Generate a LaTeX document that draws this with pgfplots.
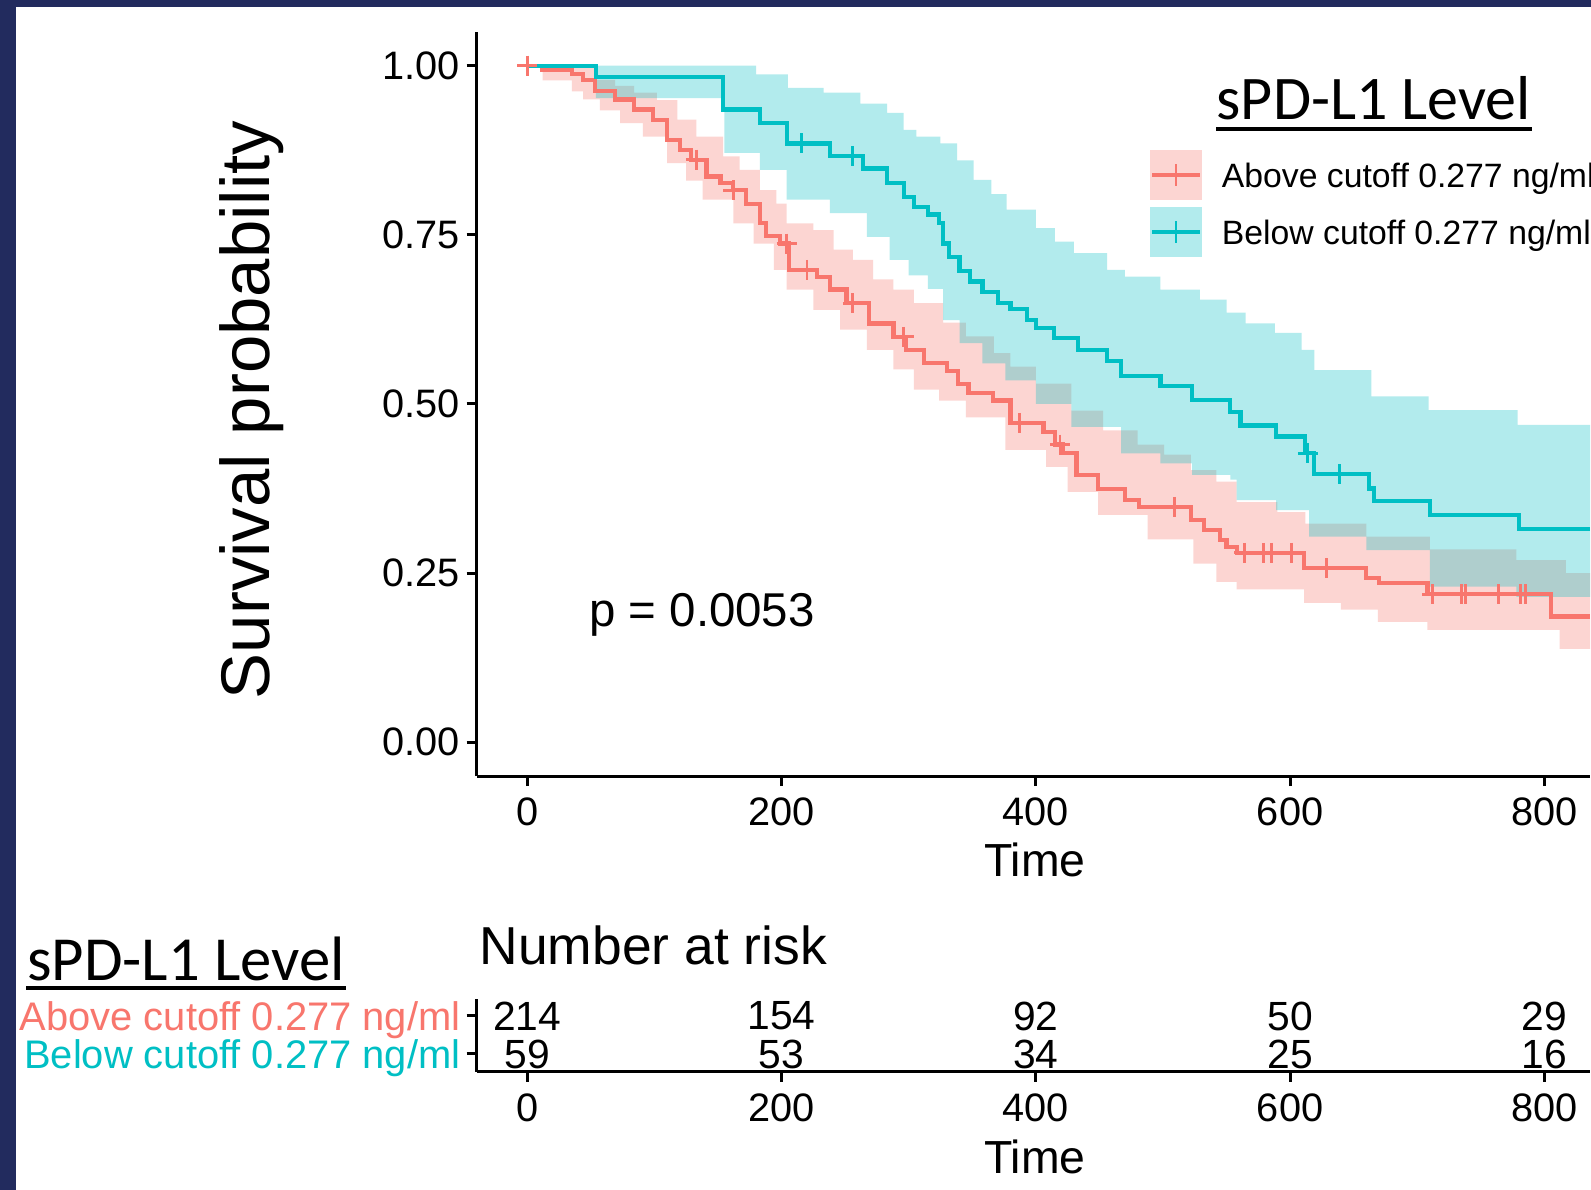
\documentclass[border=0pt]{standalone}
\usepackage{pgfplots}
\pgfplotsset{compat=1.18}
\usepackage{fontspec}
\setmainfont{Liberation Sans}
\newfontfamily\carlito{Carlito}
\definecolor{salmon}{HTML}{F8766D}
\definecolor{tealc}{HTML}{00BFC4}
\definecolor{navy}{HTML}{222B5E}

\pgfplotsset{
  km/.style={
    scale only axis, width=111.34mm,
    xmin=-39.8, xmax=836,
    axis lines=left, axis line style={-, line width=0.85pt, black},
    tick align=outside, major tick length=1mm,
    tick style={line width=0.85pt, black},
    xtick={0,200,400,600,800},
    /pgf/number format/assume math mode=true,
    tick label style={font=\fontsize{11.3}{13}\selectfont, inner sep=0pt},
    xticklabel style={anchor=north, yshift=-1.1mm},
    label style={font=\fontsize{13.2}{15}\selectfont, inner sep=0pt},
  },
}

\begin{document}
\begin{tikzpicture}
\fill[navy] (0,0) rectangle (159.1mm,119mm);
\fill[white] (1.63mm,0) rectangle (159.1mm,118.33mm);
\begin{scope}
\clip (0,0) rectangle (159.1mm,119mm);

% survival curves
\begin{axis}[km,
  at={(47.67mm,41.39mm)}, anchor=south west, height=74.43mm,
  ymin=-0.05, ymax=1.05, ytick={0,0.25,0.5,0.75,1},
  y tick label style={/pgf/number format/.cd, fixed, fixed zerofill, precision=2, /tikz/.cd, anchor=east, xshift=-0.67mm},
  xlabel={Time},
  xlabel style={at={(axis description cs:0.5014,-0.13556)}, anchor=base},
  ylabel={Survival probability},
  ylabel style={at={(axis description cs:-0.18565,0.49187)}, anchor=base, font=\fontsize{19.6}{22}\selectfont},
  legend cell align=left,
  legend style={at={(axis description cs:0.60473,0.84119)}, anchor=north west,
    draw=none, fill=none, inner sep=0pt, outer sep=0pt, row sep=0.67mm,
    font=\fontsize{9.6}{11}\selectfont, nodes={inner sep=0pt},
    /tikz/every odd column/.append style={column sep=2mm}},
]
% 95% band, above cutoff (upper steps, then lower steps back)
\addplot[fill=salmon, fill opacity=0.3, draw=none, forget plot] coordinates {
(0,1.000) (53,1.000) (53,0.979) (69,0.979) (69,0.970) (84,0.970) (84,0.960) (102,0.960)
(102,0.949) (118,0.949) (118,0.920) (133,0.920) (133,0.895) (154,0.895) (154,0.866)
(167,0.866) (167,0.846) (183,0.846) (183,0.816) (196,0.816) (196,0.796) (204,0.796)
(204,0.767) (225,0.767) (225,0.757) (241,0.757) (241,0.728) (256,0.728) (256,0.713)
(272,0.713) (272,0.684) (288,0.684) (288,0.669) (304,0.669) (304,0.649) (327,0.649)
(327,0.620) (345,0.620) (345,0.600) (367,0.600) (367,0.575) (380,0.575) (380,0.555)
(400,0.555) (400,0.530) (428,0.530) (428,0.490) (453,0.490) (453,0.461) (480,0.461)
(480,0.440) (501,0.440) (501,0.425) (522,0.425) (522,0.402) (542,0.402) (542,0.385)
(558,0.385) (558,0.355) (590,0.355) (590,0.340) (612,0.340) (612,0.323) (660,0.323)
(660,0.304) (710,0.304) (710,0.285) (778,0.285) (778,0.269) (817,0.269) (817,0.250)
(836,0.250)
(836,0.138) (812,0.138) (812,0.166) (708,0.166) (708,0.178) (669,0.178) (669,0.196)
(640,0.196) (640,0.206) (611,0.206) (611,0.226) (558,0.226) (558,0.237) (542,0.237)
(542,0.264) (524,0.264) (524,0.300) (488,0.300) (488,0.336) (449,0.336) (449,0.370)
(425,0.370) (425,0.407) (408,0.407) (408,0.432) (376,0.432) (376,0.480) (345,0.480)
(345,0.505) (324,0.505) (324,0.521) (304,0.521) (304,0.551) (288,0.551) (288,0.580)
(267,0.580) (267,0.610) (246,0.610) (246,0.639) (225,0.639) (225,0.669) (204,0.669)
(204,0.698) (194,0.698) (194,0.737) (178,0.737) (178,0.767) (162,0.767) (162,0.802)
(138,0.802) (138,0.830) (125,0.830) (125,0.856) (110,0.856) (110,0.895) (91,0.895)
(91,0.915) (73,0.915) (73,0.934) (57,0.934) (57,0.950) (44,0.950) (44,0.962) (35,0.962)
(35,0.978) (12,0.978) (12,1.000) (0,1.000)};
% 95% band, below cutoff
\addplot[fill=tealc, fill opacity=0.3, draw=none, forget plot] coordinates {
(0,1.000) (180,1.000) (180,0.987) (205,0.987) (205,0.967) (233,0.967) (233,0.960)
(262,0.960) (262,0.944) (283,0.944) (283,0.930) (296,0.930) (296,0.905) (306,0.905)
(306,0.895) (325,0.895) (325,0.885) (338,0.885) (338,0.860) (351,0.860) (351,0.831)
(365,0.831) (365,0.810) (377,0.810) (377,0.787) (400,0.787) (400,0.760) (415,0.760)
(415,0.740) (430,0.740) (430,0.723) (456,0.723) (456,0.698) (470,0.698) (470,0.688)
(498,0.688) (498,0.669) (529,0.669) (529,0.654) (550,0.654) (550,0.635) (565,0.635)
(565,0.619) (588,0.619) (588,0.605) (609,0.605) (609,0.580) (619,0.580) (619,0.550)
(664,0.550) (664,0.511) (709,0.511) (709,0.491) (779,0.491) (779,0.469) (836,0.469)
(836,0.215) (778,0.215) (778,0.230) (710,0.230) (710,0.284) (660,0.284) (660,0.304)
(615,0.304) (615,0.343) (589,0.343) (589,0.358) (558,0.358) (558,0.388) (553,0.388)
(553,0.395) (523,0.395) (523,0.412) (498,0.412) (498,0.427) (467,0.427) (467,0.466)
(428,0.466) (428,0.500) (400,0.500) (400,0.535) (376,0.535) (376,0.560) (358,0.560)
(358,0.590) (340,0.590) (340,0.624) (327,0.624) (327,0.670) (315,0.670) (315,0.690)
(300,0.690) (300,0.713) (285,0.713) (285,0.747) (267,0.747) (267,0.782) (238,0.782)
(238,0.802) (204,0.802) (204,0.846) (183,0.846) (183,0.871) (155,0.871) (155,0.952)
(54,0.952) (54,1.000) (0,1.000)};
% KM curves
\addplot[salmon, line width=1.2pt, const plot, forget plot] coordinates {
(0,1.000) (12,0.993) (35,0.988) (44,0.979) (53,0.962) (69,0.950) (84,0.935)
(99,0.920) (110,0.890) (120,0.875) (129,0.861) (141,0.836) (152,0.826) (162,0.816)
(172,0.796) (183,0.767) (188,0.748) (199,0.737) (206,0.698) (228,0.688) (238,0.669)
(251,0.649) (269,0.619) (288,0.599) (298,0.580) (312,0.560) (330,0.549) (339,0.530)
(347,0.516) (366,0.505) (380,0.472) (406,0.459) (415,0.440) (421,0.427) (432,0.395)
(449,0.374) (470,0.358) (481,0.348) (522,0.329) (532,0.314) (545,0.299) (550,0.289)
(558,0.280) (611,0.257) (660,0.243) (670,0.235) (708,0.219) (805,0.186) (836,0.186)};
\addplot[tealc, line width=1.2pt, const plot, forget plot] coordinates {
(0,1.000) (54,0.983) (154,0.935) (183,0.915) (204,0.885) (238,0.866) (264,0.848)
(283,0.826) (296,0.806) (304,0.791) (315,0.780) (324,0.767) (327,0.737) (332,0.717)
(340,0.697) (348,0.681) (358,0.666) (370,0.649) (380,0.640) (393,0.624) (400,0.612)
(414,0.598) (433,0.580) (456,0.563) (467,0.541) (498,0.526) (523,0.506) (553,0.488)
(561,0.468) (589,0.452) (612,0.427) (619,0.396) (662,0.375) (666,0.356) (710,0.336)
(780,0.315) (836,0.315)};
% censoring marks
\addplot[only marks, mark=+, mark size=1mm, salmon, mark options={line width=0.85pt}, forget plot] coordinates {
(0,1.000) (133,0.861) (162,0.816) (204,0.737) (220,0.698) (256,0.649) (296,0.599)
(387,0.472) (419,0.440) (509,0.348) (564,0.280) (579,0.280) (585,0.280) (601,0.280)
(629,0.257) (712,0.219) (735,0.219) (738,0.219) (764,0.219) (781,0.219) (785,0.219)};
\addplot[only marks, mark=+, mark size=1mm, tealc, mark options={line width=0.85pt}, forget plot] coordinates {
(216,0.885) (256,0.866) (614,0.427) (639,0.396)};
% legend
\addlegendimage{legend image code/.code={
  \fill[salmon, fill opacity=0.3, draw=none] (0mm,-2.18mm) rectangle (5.17mm,2.82mm);
  \draw[salmon, line width=1.2pt] (0.2mm,0.32mm) -- (4.97mm,0.32mm);
  \draw[salmon, line width=0.85pt] (2.585mm,-0.78mm) -- (2.585mm,1.42mm);}}
\addlegendentry{Above cutoff 0.277 ng/ml}
\addlegendimage{legend image code/.code={
  \fill[tealc, fill opacity=0.3, draw=none] (0mm,-2.18mm) rectangle (5.17mm,2.82mm);
  \draw[tealc, line width=1.2pt] (0.2mm,0.32mm) -- (4.97mm,0.32mm);
  \draw[tealc, line width=0.85pt] (2.585mm,-0.78mm) -- (2.585mm,1.42mm);}}
\addlegendentry{Below cutoff 0.277 ng/ml}
\end{axis}

% number at risk table
\begin{axis}[km,
  at={(47.67mm,11.8mm)}, anchor=south west, height=7.25mm,
  ymin=0.526, ymax=2.434, ytick={1,2},
  yticklabels={\textcolor{tealc}{Below cutoff 0.277 ng/ml},\textcolor{salmon}{Above cutoff 0.277 ng/ml}},
  y tick label style={anchor=base east, xshift=-0.56mm, yshift=-1.42mm, font=\fontsize{11.35}{13}\selectfont},
  xlabel={Time},
  xlabel style={at={(axis description cs:0.5014,-1.4069)}, anchor=base},
  clip=false,
]
\addplot[draw=none, mark=none, nodes near coords, point meta=explicit symbolic,
  every node near coord/.append style={anchor=center, inner sep=0pt, font=\fontsize{11.6}{13}\selectfont}]
  coordinates {(0,2)[214] (200,2)[154] (400,2)[92] (600,2)[50] (800,2)[29]
               (0,1)[59] (200,1)[53] (400,1)[34] (600,1)[25] (800,1)[16]};
\end{axis}

\node[anchor=base west, inner sep=0pt, font=\fontsize{13.5}{16}\selectfont] at (58.85mm,56.3mm) {p = 0.0053};
\node[anchor=base west, inner sep=0pt, font=\fontsize{15.2}{18}\selectfont] at (47.9mm,22.5mm) {Number at risk};
\node[anchor=base west, inner sep=0pt, font=\carlito\fontsize{17.65}{20}\selectfont] (t1) at (121.6mm,107.0mm) {sPD-L1 Level};
\draw[line width=0.4mm] ([yshift=-0.87mm]t1.base west) -- ([yshift=-0.87mm]t1.base east);
\node[anchor=base west, inner sep=0pt, font=\carlito\fontsize{17.85}{20}\selectfont] (t2) at (2.64mm,20.9mm) {sPD-L1 Level};
\draw[line width=0.35mm] ([yshift=-0.7mm]t2.base west) -- ([yshift=-0.7mm]t2.base east);
\end{scope}
\pgfresetboundingbox
\path[use as bounding box] (0,0) rectangle (159.1mm,119mm);
\end{tikzpicture}
\end{document}
